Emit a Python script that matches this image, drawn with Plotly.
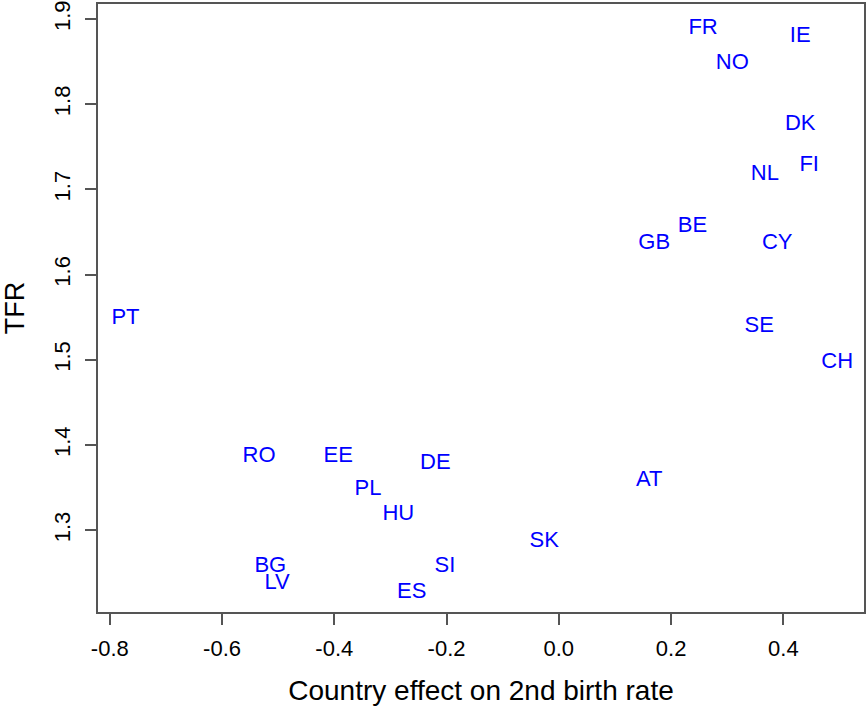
import plotly.graph_objects as go

countries = ["FR", "IE", "NO", "DK", "FI", "NL", "BE", "GB", "CY", "SE", "CH", "PT",
             "RO", "EE", "DE", "PL", "HU", "AT", "SK", "SI", "BG", "LV", "ES"]
effect = [0.257, 0.430, 0.309, 0.430, 0.446, 0.367, 0.238, 0.170, 0.389, 0.357, 0.496, -0.772,
          -0.534, -0.393, -0.220, -0.340, -0.286, 0.161, -0.026, -0.203, -0.514, -0.502, -0.262]
tfr = [1.889, 1.879, 1.848, 1.776, 1.728, 1.717, 1.656, 1.637, 1.637, 1.539, 1.497, 1.548,
       1.387, 1.387, 1.378, 1.348, 1.318, 1.358, 1.287, 1.257, 1.257, 1.237, 1.227]

x_ticks = [-0.8, -0.6, -0.4, -0.2, 0.0, 0.2, 0.4]
x_ticklabels = ["-0.8", "-0.6", "-0.4", "-0.2", "0.0", "0.2", "0.4"]
y_ticks = [1.3, 1.4, 1.5, 1.6, 1.7, 1.8, 1.9]
y_ticklabels = ["1.3", "1.4", "1.5", "1.6", "1.7", "1.8", "1.9"]

FONT = "Liberation Sans, Arial, sans-serif"

fig = go.Figure()
fig.add_trace(go.Scatter(
    x=effect, y=tfr, text=countries, mode="text",
    textposition="middle center",
    textfont=dict(family=FONT, size=22, color="#0000FF"),
    hoverinfo="text", showlegend=False,
))

axis_common = dict(
    showgrid=False, zeroline=False, showline=True, mirror=True,
    linecolor="#555555", linewidth=1.5,
    ticks="outside", ticklen=11, tickwidth=1.5, tickcolor="#555555",
    tickfont=dict(family=FONT, size=22, color="black"),
)

fig.update_layout(
    width=866, height=709,
    margin=dict(l=98, r=2, t=4, b=97, autoexpand=False),
    paper_bgcolor="white", plot_bgcolor="white",
    xaxis=dict(range=[-0.821, 0.5437], tickvals=x_ticks, ticktext=x_ticklabels,
               title=dict(text="Country effect on 2nd birth rate",
                          font=dict(family=FONT, size=28, color="black"), standoff=20),
               ticklabelstandoff=5, automargin=False,
               **axis_common),
    yaxis=dict(range=[1.2041, 1.9176], tickvals=y_ticks, ticktext=y_ticklabels,
               tickangle=-90,
               title=dict(text="TFR", font=dict(family=FONT, size=27, color="black"), standoff=18),
               ticklabelstandoff=6, automargin=False,
               **axis_common),
)

fig.write_html("out.html", config={"displayModeBar": False})
with open("out.html", "r", encoding="utf-8") as f:
    html = f.read()
html = html.replace("<body>", '<body style="margin:0;padding:0;">', 1)
with open("out.html", "w", encoding="utf-8") as f:
    f.write(html)
